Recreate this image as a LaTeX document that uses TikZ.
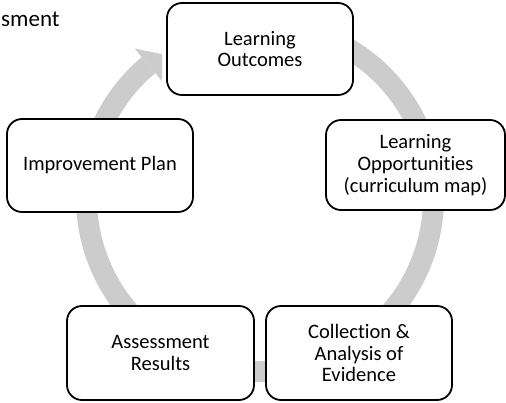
\documentclass[tikz,border=0pt]{standalone}
\usepackage{fontspec}
\setmainfont[Ligatures=NoCommon]{Carlito}
\begin{document}
\begin{tikzpicture}[x=1pt,y=1pt,
  stagebox/.style={draw=black, line width=1.8pt, fill=white, rounded corners=15pt,
    inner sep=0pt, align=center, font=\fontsize{20.5}{21.8}\selectfont},
  ringline/.style={draw=ringgray, line width=21pt}]
\definecolor{ringgray}{RGB}{204,204,204}
\useasboundingbox (0,0) rectangle (506,402);
\coordinate (C) at (260,204);
% cycle ring
\draw[ringline] (C) ++(115:173.5) arc[start angle=115, end angle=-230, radius=173.5];
\fill[ringgray] ([shift={(130:195)}]C) -- ([shift={(124.2:174)}]C) -- ([shift={(130:152.5)}]C) -- cycle;
% title fragment
\node[anchor=base west, inner sep=0pt, font=\fontsize{23}{25}\selectfont] (title) at (1,375.5) {sment};
% stages
\node[stagebox, minimum width=186, minimum height=92] (lo) at (260,353) {Learning\\Outcomes};
\node[stagebox, minimum width=179, minimum height=90] (opp) at (415.5,237) {Learning\\Opportunit\kern0pt ies\\(curriculum map)};
\node[stagebox, minimum width=186, minimum height=93] (ip) at (100,236.5) {Improvement Plan};
\node[stagebox, minimum width=187, minimum height=94] (ar) at (160.5,49) {Assessment\\Results};
\node[stagebox, minimum width=186, minimum height=94] (cae) at (359,49) {Collection \&\\Analysis of\\Evidence};
\end{tikzpicture}
\end{document}
